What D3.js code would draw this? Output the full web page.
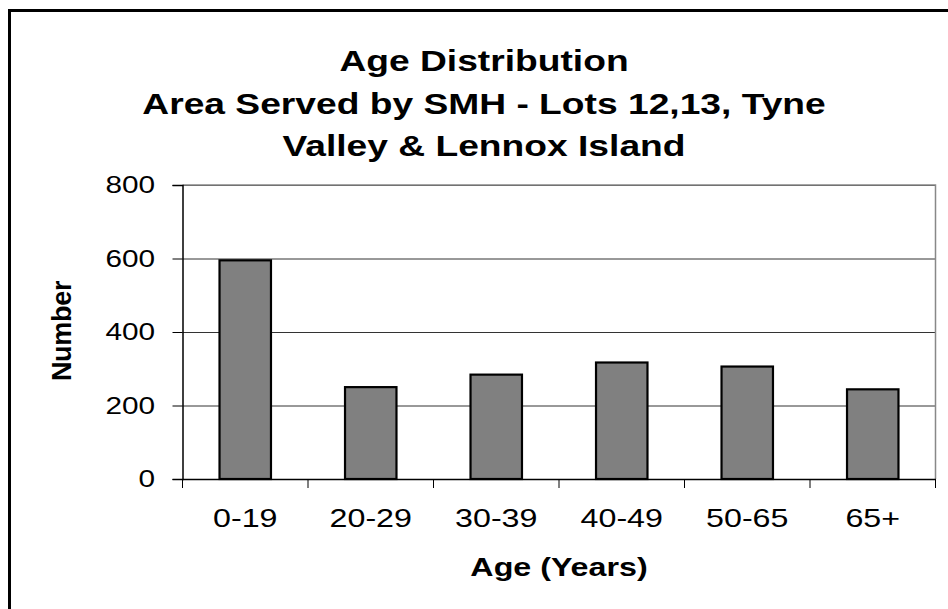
<!DOCTYPE html>
<meta charset="utf-8">
<style>
body { margin: 0; background: #fff; }
text { font-family: "Liberation Sans", Arial, sans-serif; fill: #000; }
.grid line { stroke: #333; stroke-width: 1px; }
.grid path { stroke-width: 0; }
.bar { fill: #808080; stroke: #000; stroke-width: 2.2px; }
</style>
<body>
<script src="https://d3js.org/d3.v7.min.js"></script>
<script>
// chart data
var categories = ["0-19", "20-29", "30-39", "40-49", "50-65", "65+"];
var counts = [595, 250, 284, 317, 306, 244];
var yTicks = [0, 200, 400, 600, 800];
var titleLines = ["Age Distribution", "Area Served by SMH - Lots 12,13, Tyne", "Valley & Lennox Island"];

// the original text is a bit stretched sideways
var stretch = 1.24;

var W = 948, H = 609;
var plot = {left: 182.5, right: 935.5, top: 185, bottom: 479};

var svg = d3.select("body").append("svg")
    .attr("width", W)
    .attr("height", H);

// outer chart frame (runs off the right and bottom edge)
svg.append("rect")
    .attr("x", 9.5).attr("y", 10.5)
    .attr("width", 980).attr("height", 640)
    .attr("fill", "none")
    .attr("stroke", "#000")
    .attr("stroke-width", 3);

var x = d3.scaleBand().domain(categories).range([plot.left, plot.right]).padding(0);
var y = d3.scaleLinear().domain([0, 800]).range([plot.bottom, plot.top]);

// gridlines
svg.append("g")
    .attr("class", "grid")
    .attr("transform", "translate(" + plot.left + ",0)")
    .call(d3.axisLeft(y).tickValues(yTicks).tickSize(-(plot.right - plot.left)).tickFormat(""));

// plot border top / right
svg.append("path")
    .attr("d", "M" + plot.left + "," + y(800) + "H" + plot.right + "V" + y(0))
    .attr("fill", "none")
    .attr("stroke", "#888")
    .attr("stroke-width", 1.5);

// bars
var barW = x.bandwidth() * 0.41;
svg.selectAll(".bar")
    .data(counts)
  .enter().append("rect")
    .attr("class", "bar")
    .attr("x", function(d, i) { return x(categories[i]) + x.bandwidth() / 2 - barW / 2; })
    .attr("y", function(d) { return y(d); })
    .attr("width", barW)
    .attr("height", function(d) { return y(0) - y(d); });

// y axis
var yAxis = svg.append("g")
    .attr("transform", "translate(" + plot.left + ",0)")
    .call(d3.axisLeft(y).tickValues(yTicks).tickSize(10));
yAxis.select(".domain").attr("stroke", "#000").attr("stroke-width", 1.5);
yAxis.selectAll(".tick line").attr("stroke", "#000");
yAxis.selectAll("text")
    .attr("x", -27.5 / stretch)
    .attr("dy", "0.32em")
    .attr("transform", "scale(" + stretch + ",1)")
    .style("font-size", "24px");

// x axis: labels centred in the bands, ticks on category boundaries
var xAxis = svg.append("g")
    .attr("transform", "translate(0," + plot.bottom + ")")
    .call(d3.axisBottom(x).tickSize(0).tickSizeOuter(0));
xAxis.select(".domain").attr("stroke", "#000").attr("stroke-width", 1.5);
xAxis.selectAll("text")
    .attr("y", 48)
    .attr("dy", 0)
    .attr("transform", "scale(" + stretch + ",1)")
    .style("font-size", "26px");

var bounds = categories.map(function(c) { return x(c); }).concat([plot.right]);
xAxis.selectAll(".btick")
    .data(bounds)
  .enter().append("line")
    .attr("class", "btick")
    .attr("x1", function(d) { return d; })
    .attr("x2", function(d) { return d; })
    .attr("y1", 0).attr("y2", 9)
    .attr("stroke", "#000");

// titles
svg.selectAll(".title")
    .data(titleLines)
  .enter().append("text")
    .attr("class", "title")
    .attr("transform", function(d, i) { return "translate(484," + (71 + i * 42.5) + ") scale(" + stretch + ",1)"; })
    .attr("text-anchor", "middle")
    .style("font-size", "30px")
    .style("font-weight", "bold")
    .text(function(d) { return d; });

svg.append("text")
    .attr("transform", "translate(" + ((plot.left + plot.right) / 2) + ",576) scale(" + stretch + ",1)")
    .attr("text-anchor", "middle")
    .style("font-size", "26px")
    .style("font-weight", "bold")
    .text("Age (Years)");

svg.append("text")
    .attr("transform", "translate(71,331) rotate(-90)")
    .attr("text-anchor", "middle")
    .style("font-size", "27px")
    .style("font-weight", "bold")
    .style("letter-spacing", "-0.3px")
    .text("Number");
</script>
</body>
